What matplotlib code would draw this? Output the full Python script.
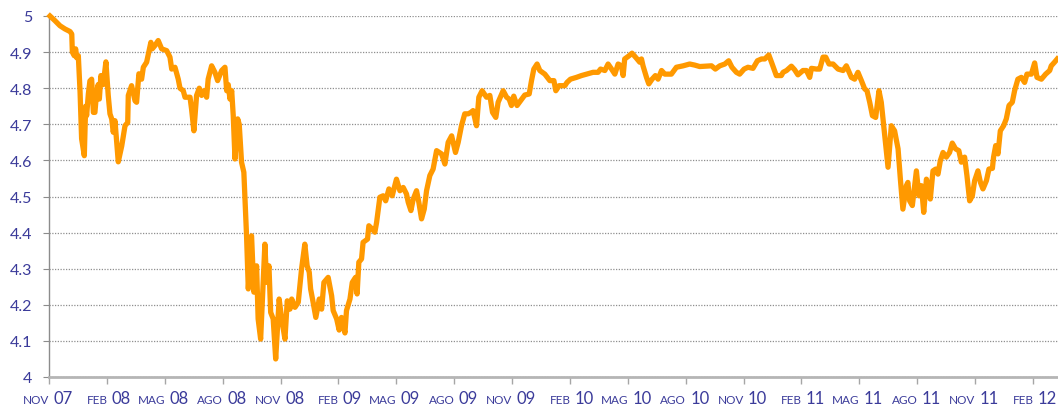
import matplotlib
matplotlib.use("Agg")
import matplotlib.pyplot as plt
import matplotlib.transforms as mtransforms

# months elapsed since Nov 2007, and the value
months = [
    0.05, 0.31, 0.57, 0.83, 1.09, 1.18, 1.21, 1.31, 1.38, 1.44, 1.52, 1.61, 1.69, 1.83, 1.90,
    1.95, 2.04, 2.12, 2.21, 2.30, 2.38, 2.47, 2.55, 2.61, 2.69, 2.81, 2.95, 3.07, 3.16, 3.25,
    3.33, 3.42, 3.51, 3.59, 3.77, 3.94, 4.08, 4.11, 4.28, 4.46, 4.54, 4.66, 4.80, 4.89, 5.06,
    5.15, 5.28, 5.35, 5.49, 5.66, 5.84, 6.10, 6.27, 6.36, 6.53, 6.70, 6.79, 6.96, 7.05, 7.31,
    7.39, 7.51, 7.65, 7.79, 7.91, 8.03, 8.17, 8.25, 8.43, 8.60, 8.74, 8.95, 9.12, 9.21, 9.29,
    9.38, 9.47, 9.55, 9.64, 9.78, 9.86, 9.98, 10.10, 10.24, 10.33, 10.50, 10.62, 10.76, 10.84,
    10.97, 11.10, 11.19, 11.28, 11.40, 11.49, 11.62, 11.75, 11.93, 12.06, 12.23, 12.35, 12.49,
    12.58, 12.75, 12.92, 13.09, 13.26, 13.38, 13.49, 13.56, 13.69, 13.83, 14.01, 14.13, 14.25,
    14.47, 14.65, 14.73, 14.91, 15.04, 15.16, 15.34, 15.42, 15.60, 15.72, 15.89, 15.97, 16.06,
    16.20, 16.28, 16.51, 16.58, 16.75, 16.89, 16.98, 17.15, 17.32, 17.45, 17.62, 17.79, 18.01,
    18.19, 18.36, 18.53, 18.62, 18.76, 18.88, 19.05, 19.17, 19.31, 19.45, 19.57, 19.74, 19.91,
    20.09, 20.35, 20.52, 20.69, 20.87, 21.07, 21.21, 21.38, 21.55, 21.73, 21.87, 21.98, 22.16,
    22.28, 22.45, 22.68, 22.85, 22.99, 23.16, 23.28, 23.54, 23.72, 23.85, 23.97, 24.09, 24.26,
    24.44, 24.66, 24.89, 25.01, 25.13, 25.30, 25.44, 25.70, 25.96, 26.17, 26.27, 26.44, 26.74,
    26.85, 27.03, 27.34, 27.60, 27.86, 28.20, 28.46, 28.59, 28.81, 28.98, 29.16, 29.33, 29.50,
    29.67, 29.76, 29.84, 30.07, 30.22, 30.45, 30.62, 30.71, 30.79, 30.97, 31.09, 31.26, 31.43,
    31.57, 31.75, 31.92, 32.26, 32.52, 32.87, 33.21, 33.47, 33.73, 34.08, 34.34, 34.54, 34.77,
    35.03, 35.23, 35.40, 35.63, 35.80, 36.03, 36.23, 36.49, 36.72, 36.93, 37.10, 37.31, 37.45,
    37.70, 37.96, 38.05, 38.23, 38.48, 38.65, 38.82, 39.08, 39.26, 39.43, 39.52, 39.78, 39.95,
    40.12, 40.26, 40.43, 40.64, 40.90, 41.16, 41.33, 41.59, 41.76, 41.93, 42.11, 42.28, 42.40,
    42.54, 42.68, 42.85, 43.02, 43.14, 43.32, 43.49, 43.66, 43.83, 44.01, 44.13, 44.26, 44.44,
    44.52, 44.61, 44.75, 44.96, 45.09, 45.22, 45.34, 45.48, 45.61, 45.68, 45.82, 45.96, 46.08,
    46.20, 46.34, 46.51, 46.68, 46.82, 46.99, 47.16, 47.29, 47.46, 47.58, 47.72, 47.86, 47.98,
    48.15, 48.28, 48.41, 48.59, 48.72, 48.90, 48.96, 49.07, 49.19, 49.31, 49.48, 49.62, 49.76,
    49.93, 50.05, 50.22, 50.40, 50.57, 50.69, 50.92, 51.09, 51.21, 51.44, 51.66, 51.87, 51.95,
    52.12, 52.26,
]
values = [
    5.000, 4.987, 4.973, 4.964, 4.957, 4.950, 4.900, 4.890, 4.909, 4.884, 4.890, 4.790, 4.660, 4.613, 4.750,
    4.724, 4.784, 4.820, 4.825, 4.733, 4.733, 4.790, 4.810, 4.770, 4.835, 4.810, 4.873, 4.780, 4.729, 4.715,
    4.678, 4.710, 4.650, 4.596, 4.640, 4.696, 4.705, 4.780, 4.807, 4.765, 4.761, 4.840, 4.825, 4.858, 4.872,
    4.895, 4.927, 4.909, 4.918, 4.932, 4.909, 4.904, 4.886, 4.853, 4.858, 4.825, 4.800, 4.793, 4.775, 4.775,
    4.742, 4.682, 4.780, 4.800, 4.780, 4.793, 4.775, 4.825, 4.862, 4.844, 4.821, 4.849, 4.858, 4.793, 4.810,
    4.770, 4.793, 4.724, 4.604, 4.715, 4.700, 4.595, 4.567, 4.391, 4.244, 4.391, 4.235, 4.308, 4.161,
    4.105, 4.262, 4.368, 4.262, 4.308, 4.179, 4.161, 4.050, 4.216, 4.161, 4.105, 4.211, 4.188,
    4.216, 4.193, 4.207, 4.299, 4.368, 4.308, 4.290, 4.244, 4.207, 4.165, 4.216, 4.188, 4.262,
    4.276, 4.225, 4.184, 4.161, 4.130, 4.165, 4.122, 4.184, 4.216, 4.262, 4.276, 4.230, 4.318,
    4.327, 4.373, 4.382, 4.419, 4.410, 4.401, 4.428, 4.498, 4.502, 4.488, 4.521, 4.502, 4.548,
    4.516, 4.525, 4.507, 4.484, 4.461, 4.493, 4.516, 4.484, 4.438, 4.465, 4.516, 4.558, 4.576,
    4.627, 4.618, 4.590, 4.650, 4.668, 4.622, 4.650, 4.696, 4.729, 4.729, 4.733, 4.738, 4.696,
    4.775, 4.793, 4.775, 4.780, 4.733, 4.719, 4.761, 4.793, 4.775, 4.770, 4.752, 4.778, 4.752,
    4.765, 4.781, 4.784, 4.821, 4.853, 4.867, 4.849, 4.839, 4.821, 4.821, 4.793, 4.807, 4.807,
    4.816, 4.825, 4.830, 4.835, 4.839, 4.844, 4.844, 4.853, 4.849, 4.867, 4.853, 4.839, 4.867,
    4.862, 4.835, 4.881, 4.890, 4.897, 4.883, 4.872, 4.881, 4.862, 4.830, 4.812, 4.825, 4.835,
    4.825, 4.849, 4.839, 4.839, 4.858, 4.862, 4.867, 4.864, 4.860, 4.861, 4.862, 4.853, 4.862,
    4.867, 4.876, 4.858, 4.844, 4.839, 4.853, 4.858, 4.855, 4.876, 4.881, 4.881, 4.892, 4.872,
    4.835, 4.835, 4.844, 4.849, 4.861, 4.851, 4.837, 4.849, 4.849, 4.830, 4.855, 4.853, 4.853,
    4.886, 4.886, 4.867, 4.867, 4.853, 4.849, 4.862, 4.830, 4.825, 4.844, 4.821, 4.798, 4.793,
    4.761, 4.724, 4.719, 4.793, 4.761, 4.668, 4.581, 4.696, 4.682, 4.632, 4.548, 4.465, 4.530,
    4.539, 4.488, 4.475, 4.571, 4.502, 4.530, 4.456, 4.548, 4.521, 4.493, 4.571, 4.576, 4.562,
    4.599, 4.622, 4.609, 4.622, 4.648, 4.632, 4.627, 4.595, 4.609, 4.558, 4.488, 4.502, 4.544,
    4.571, 4.539, 4.521, 4.544, 4.576, 4.578, 4.609, 4.641, 4.618, 4.682, 4.696, 4.715, 4.752,
    4.761, 4.793, 4.825, 4.830, 4.816, 4.839, 4.839, 4.870, 4.830, 4.825, 4.839, 4.849, 4.862,
    4.872, 4.881,
]

tick_months = ["NOV", "FEB", "MAG", "AGO"]
tick_years = ["07", "08", "08", "08", "08", "09", "09", "09", "09", "10", "10", "10", "10",
              "11", "11", "11", "11", "12"]
y_ticks = [4, 4.1, 4.2, 4.3, 4.4, 4.5, 4.6, 4.7, 4.8, 4.9, 5]

label_color = "#3b3b9a"
font = "Lato"

fig = plt.figure(figsize=(10.58, 4.06), dpi=100)
ax = fig.add_axes([49 / 1058, 1 - 378 / 406, 1 - 49 / 1058, (378 - 17) / 406])

ax.plot(months, values, color="#ff9900", linewidth=3.8, solid_joinstyle="round",
        clip_on=False, zorder=3)

ax.set_xlim(0, 52.3)
ax.set_ylim(4, 5)

# y axis
ax.set_yticks(y_ticks)
ax.set_yticklabels([f"{v:g}" for v in y_ticks], fontsize=11.5, color=label_color,
                   fontfamily=font)
ax.tick_params(axis="y", length=4, width=0.8, color="#8c8c8c", pad=8)
ax.grid(axis="y", color="#8f8f8f", linestyle=(0, (1, 1.2)), linewidth=0.9)
ax.set_axisbelow(True)

# x axis: quarterly ticks, month small + year bigger
xt = [3 * i for i in range(len(tick_years))]
ax.set_xticks(xt)
ax.set_xticklabels([])
ax.tick_params(axis="x", length=5, width=1, color="#a6a6a6")
trans = mtransforms.blended_transform_factory(ax.transData, ax.transAxes)
for i, x in enumerate(xt):
    ax.annotate(tick_months[i % 4], xy=(x, 0), xycoords=trans, xytext=(0.5, -26),
                textcoords="offset pixels", ha="right", va="baseline",
                fontsize=8.5, color=label_color, fontfamily=font, annotation_clip=False)
    ax.annotate(tick_years[i], xy=(x, 0), xycoords=trans, xytext=(4.5, -26),
                textcoords="offset pixels", ha="left", va="baseline",
                fontsize=12, color=label_color, fontfamily=font, annotation_clip=False)

for side in ["top", "right"]:
    ax.spines[side].set_visible(False)
ax.spines["left"].set_color("#8c8c8c")
ax.spines["left"].set_linewidth(1)
ax.spines["bottom"].set_color("#b5b5b5")
ax.spines["bottom"].set_linewidth(2)

fig.savefig("out.png", dpi=100)
